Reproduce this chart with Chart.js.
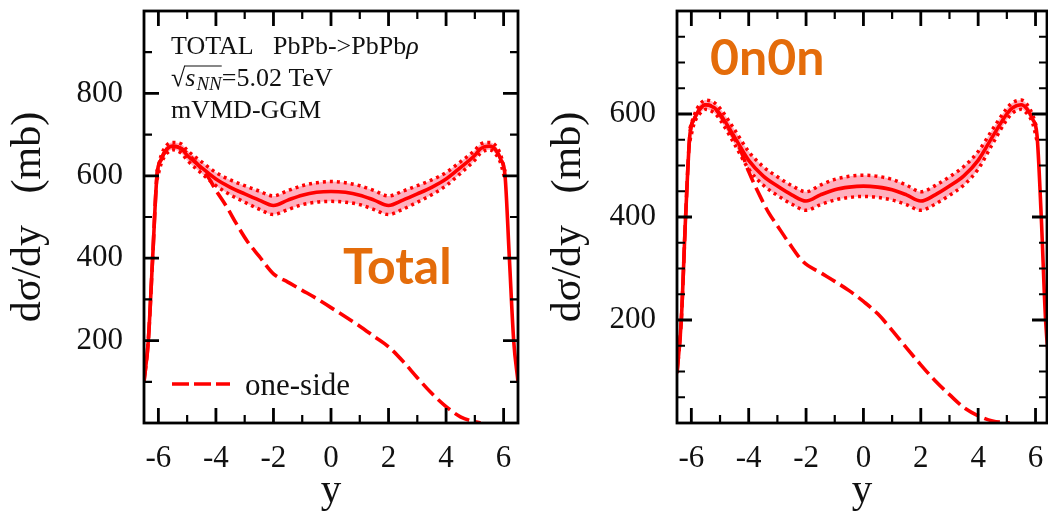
<!DOCTYPE html>
<html>
<head>
<meta charset="utf-8">
<script src="https://cdn.jsdelivr.net/npm/chart.js@4.4.1/dist/chart.umd.min.js"></script>
<style>
  html, body { margin: 0; padding: 0; background: #fff; overflow: hidden; }
  #wrap { position: relative; width: 1048px; height: 516px; overflow: hidden; }
  #wrap canvas { position: absolute; top: 0; }
  #totalChart { left: 0; }
  #zeroChart { left: 540px; }
</style>
</head>
<body>
<div id="wrap">
  <canvas id="totalChart" width="540" height="516"></canvas>
  <canvas id="zeroChart" width="520" height="516"></canvas>
</div>
<script>
// rapidity grid for the full (solid) curves
const rapidity = [-6.5, -6.35, -6.2, -6.05, -5.9, -5.7, -5.5, -5.2, -5.0, -4.5, -4.0, -3.5, -3.0, -2.5, -2.0, -1.5, -1.0, -0.5, 0,
                  0.5, 1.0, 1.5, 2.0, 2.5, 3.0, 3.5, 4.0, 4.5, 5.0, 5.2, 5.5, 5.7, 5.9, 6.05, 6.2, 6.35, 6.5];
// rapidity grid for the uncertainty band
const bandRapidity = [-6.05, -5.9, -5.7, -5.5, -5.2, -5.0, -4.5, -4.0, -3.5, -3.0, -2.5, -2.0, -1.5, -1.0, -0.5, 0,
                      0.5, 1.0, 1.5, 2.0, 2.5, 3.0, 3.5, 4.0, 4.5, 5.0, 5.2, 5.5, 5.7, 5.9, 6.05];

// TOTAL
const totalMean = [100, 200, 400, 600, 640, 665, 672, 666, 650, 620, 592, 572, 556, 541, 528, 541, 553, 560, 562,
                   560, 553, 541, 528, 541, 556, 572, 592, 620, 650, 666, 672, 665, 640, 600, 400, 200, 100];
const totalUpper = [610, 650, 675, 681, 677, 662, 634, 608, 590, 576, 563, 551, 564, 576, 583, 586,
                    583, 576, 564, 551, 563, 576, 590, 608, 634, 662, 677, 681, 675, 650, 610];
const totalLower = [590, 630, 655, 663, 655, 638, 606, 576, 554, 536, 519, 506, 518, 530, 536, 538,
                    536, 530, 518, 506, 519, 536, 554, 576, 606, 638, 655, 663, 655, 630, 590];
const totalOneSideRap = [-6.5, -6.35, -6.2, -6.05, -5.9, -5.7, -5.5, -5.2, -4.9, -4.6, -4.3, -4.0, -3.6, -3.3, -2.9, -2.5, -2.0,
                         -1.5, -1.0, -0.5, 0, 0.5, 1.0, 1.5, 2.0, 2.5, 3.0, 3.5, 4.0, 4.5, 5.0, 5.2];
const totalOneSide = [100, 200, 400, 600, 640, 665, 672, 666, 648, 625, 600, 565, 522, 485, 440, 405, 362,
                      342, 322, 302, 280, 258, 235, 210, 185, 150, 110, 72, 40, 15, 3, 0];

// 0n0n
const zeroMean = [97, 200, 400, 560, 590, 610, 618, 612, 600, 556, 510, 480, 460, 443, 431, 443, 453, 458, 460,
                  458, 453, 443, 431, 443, 460, 480, 510, 556, 600, 612, 618, 610, 590, 560, 400, 200, 97];
const zeroUpper = [572, 598, 619, 627, 622, 611, 570, 527, 498, 478, 461, 449, 462, 473, 479, 481,
                   479, 473, 462, 449, 461, 478, 498, 527, 570, 611, 622, 627, 619, 598, 572];
const zeroLower = [548, 582, 601, 609, 602, 589, 542, 493, 462, 442, 425, 413, 424, 433, 438, 440,
                   438, 433, 424, 413, 425, 442, 462, 493, 542, 589, 602, 609, 601, 582, 548];
const zeroOneSideRap = [-6.5, -6.35, -6.2, -6.05, -5.9, -5.7, -5.5, -5.2, -5.0, -4.6, -4.3, -4.0, -3.6, -3.3, -3.0, -2.6, -2.1,
                        -1.5, -1.0, -0.5, 0, 0.5, 1.0, 1.5, 2.0, 2.5, 3.0, 3.5, 4.0, 4.5, 5.1];
const zeroOneSide = [97, 200, 400, 560, 590, 610, 618, 612, 598, 562, 532, 488, 440, 408, 383, 350, 313,
                     292, 275, 257, 236, 212, 180, 146, 113, 82, 55, 30, 14, 4, 0];

// ticks
const xLabels = [-6, -4, -2, 0, 2, 4, 6];
const xMinor = [-5, -3, -1, 1, 3, 5];
const totalYLabels = [200, 400, 600, 800];
const totalYMinor = [100, 300, 500, 700, 900];
const zeroYLabels = [200, 400, 600];
const zeroYMinor = [50, 100, 150, 250, 300, 350, 450, 500, 550, 650, 700, 750];

const SERIF = '"Liberation Serif", "DejaVu Serif", serif';
const RED = '#ff0000';
const PINK = '#ffb0bf';
const ORANGE = '#e46c0a';

const zip = (xs, ys) => xs.map((x, i) => ({ x: x, y: ys[i] }));

// box around the plot with inward ticks on all four sides
const frameTicks = {
  id: 'frameTicks',
  afterDatasetsDraw(chart, args, o) {
    const { ctx, chartArea: a, scales: { x, y } } = chart;
    const marks = (xs, ys, len, width) => {
      ctx.lineWidth = width;
      ctx.beginPath();
      xs.forEach(v => {
        const px = x.getPixelForValue(v);
        ctx.moveTo(px, a.bottom); ctx.lineTo(px, a.bottom - len);
        ctx.moveTo(px, a.top); ctx.lineTo(px, a.top + len);
      });
      ys.forEach(v => {
        const py = y.getPixelForValue(v);
        ctx.moveTo(a.left, py); ctx.lineTo(a.left + len, py);
        ctx.moveTo(a.right, py); ctx.lineTo(a.right - len, py);
      });
      ctx.stroke();
    };
    ctx.save();
    ctx.strokeStyle = '#000';
    marks(xLabels, o.yMajor, 15, 2.8);
    marks(xMinor, o.yMinor, 8, 2.2);
    ctx.lineWidth = 2.8;
    ctx.strokeRect(a.left, a.top, a.right - a.left, a.bottom - a.top);
    ctx.restore();
  }
};

// panel tag, header text and the one-side legend
const notes = {
  id: 'notes',
  afterDraw(chart, args, o) {
    const { ctx, chartArea: a } = chart;
    ctx.save();
    ctx.textBaseline = 'alphabetic';
    if (o.tag) {
      ctx.font = 'bold 50px Lato, "Open Sans", sans-serif';
      ctx.fillStyle = ORANGE;
      ctx.fillText(o.tag.text, a.left + o.tag.dx, a.top + o.tag.dy);
    }
    if (o.header) {
      const f = 26;
      const x0 = a.left + 27;
      ctx.fillStyle = '#111';
      ctx.strokeStyle = '#111';
      ctx.font = f + 'px ' + SERIF;
      ctx.fillText('TOTAL', x0, a.top + 43);
      ctx.fillText('PbPb->PbPb', a.left + 129, a.top + 43);
      const w = ctx.measureText('PbPb->PbPb').width;
      ctx.font = 'italic ' + f + 'px ' + SERIF;
      ctx.fillText('ρ', a.left + 129 + w, a.top + 43);

      const b = a.top + 75;
      ctx.font = f + 'px ' + SERIF;
      ctx.fillText('√', x0, b);
      let cx = x0 + ctx.measureText('√').width;
      const sx = cx;
      ctx.font = 'italic ' + f + 'px ' + SERIF;
      ctx.fillText('s', cx, b);
      cx += ctx.measureText('s').width + 1;
      ctx.font = 'italic 19px ' + SERIF;
      ctx.fillText('NN', cx, b + 4);
      cx += ctx.measureText('NN').width;
      ctx.lineWidth = 1.2;
      ctx.beginPath();
      ctx.moveTo(sx - 1, b - 20);
      ctx.lineTo(cx, b - 20);
      ctx.stroke();
      ctx.font = f + 'px ' + SERIF;
      ctx.fillText('=5.02 TeV', cx, b);

      ctx.fillText('mVMD-GGM', x0, a.top + 107);
    }
    if (o.legend) {
      const ds = chart.data.datasets.find(d => d.label === 'one-side');
      const ly = a.top + 373;
      ctx.strokeStyle = ds.borderColor;
      ctx.lineWidth = ds.borderWidth;
      ctx.setLineDash([17, 5]);
      ctx.beginPath();
      ctx.moveTo(a.left + 28, ly);
      ctx.lineTo(a.left + 86, ly);
      ctx.stroke();
      ctx.setLineDash([]);
      ctx.fillStyle = '#111';
      ctx.font = '31px ' + SERIF;
      ctx.fillText(ds.label, a.left + 101, a.top + 384);
    }
    ctx.restore();
  }
};

function makePanel(canvasId, p) {
  return new Chart(document.getElementById(canvasId), {
    type: 'line',
    data: {
      datasets: [
        { label: 'one-side', data: zip(p.oneSideRap, p.oneSide), borderColor: RED, borderWidth: 3.6,
          borderDash: [16, 6], fill: false },
        { label: 'total', data: zip(rapidity, p.mean), borderColor: RED, borderWidth: 3.6, fill: false },
        { label: 'upper', data: zip(bandRapidity, p.upper), borderColor: RED, borderWidth: 3.5,
          borderDash: [3, 4], fill: '+1', backgroundColor: PINK },
        { label: 'lower', data: zip(bandRapidity, p.lower), borderColor: RED, borderWidth: 3.5,
          borderDash: [3, 4], fill: false }
      ]
    },
    options: {
      responsive: false,
      animation: false,
      events: [],
      layout: { padding: { left: 0, right: p.padRight, top: 11, bottom: 0 } },
      elements: {
        point: { radius: 0 },
        line: { cubicInterpolationMode: 'monotone', borderCapStyle: 'butt' }
      },
      plugins: {
        legend: { display: false },
        tooltip: { enabled: false },
        filler: { drawTime: 'beforeDatasetsDraw' },
        frameTicks: { yMajor: p.yLabels, yMinor: p.yMinor },
        notes: p.notes
      },
      scales: {
        x: {
          type: 'linear', min: -6.5, max: p.xMax,
          grid: { display: false, drawTicks: false },
          border: { display: false },
          afterBuildTicks: s => { s.ticks = xLabels.map(v => ({ value: v })); },
          afterFit: s => { s.height = 93; s.paddingLeft = 0; s.paddingRight = 0; },
          ticks: { font: { family: SERIF, size: 31 }, color: '#111', padding: 17, maxRotation: 0, autoSkip: false },
          title: { display: true, text: 'y', color: '#111', font: { family: SERIF, size: 41, lineHeight: 1.2 },
                   padding: { top: 0, bottom: 0 } }
        },
        y: {
          type: 'linear', min: 0, max: p.yMax,
          grid: { display: false, drawTicks: false },
          border: { display: false },
          afterBuildTicks: s => { s.ticks = p.yLabels.map(v => ({ value: v })); },
          afterFit: s => { s.width = p.axisWidth; s.paddingTop = 0; s.paddingBottom = 0; },
          ticks: { font: { family: SERIF, size: 31 }, color: '#111', padding: 21, autoSkip: false },
          title: { display: true, text: 'dσ/dy   (mb)', color: '#111', font: { family: SERIF, size: 42, lineHeight: 1.2 },
                   padding: { top: 4, bottom: 0 } }
        }
      }
    },
    plugins: [frameTicks, notes]
  });
}

makePanel('totalChart', {
  mean: totalMean, upper: totalUpper, lower: totalLower,
  oneSideRap: totalOneSideRap, oneSide: totalOneSide,
  xMax: 6.5, yMax: 1000, yLabels: totalYLabels, yMinor: totalYMinor,
  axisWidth: 144, padRight: 22,
  notes: { header: true, legend: true, tag: { text: 'Total', dx: 199, dy: 273 } }
});

makePanel('zeroChart', {
  mean: zeroMean, upper: zeroUpper, lower: zeroLower,
  oneSideRap: zeroOneSideRap, oneSide: zeroOneSide,
  xMax: 6.4, yMax: 800, yLabels: zeroYLabels, yMinor: zeroYMinor,
  axisWidth: 137, padRight: 13,
  notes: { tag: { text: '0n0n', dx: 33, dy: 64 } }
});
</script>
</body>
</html>
